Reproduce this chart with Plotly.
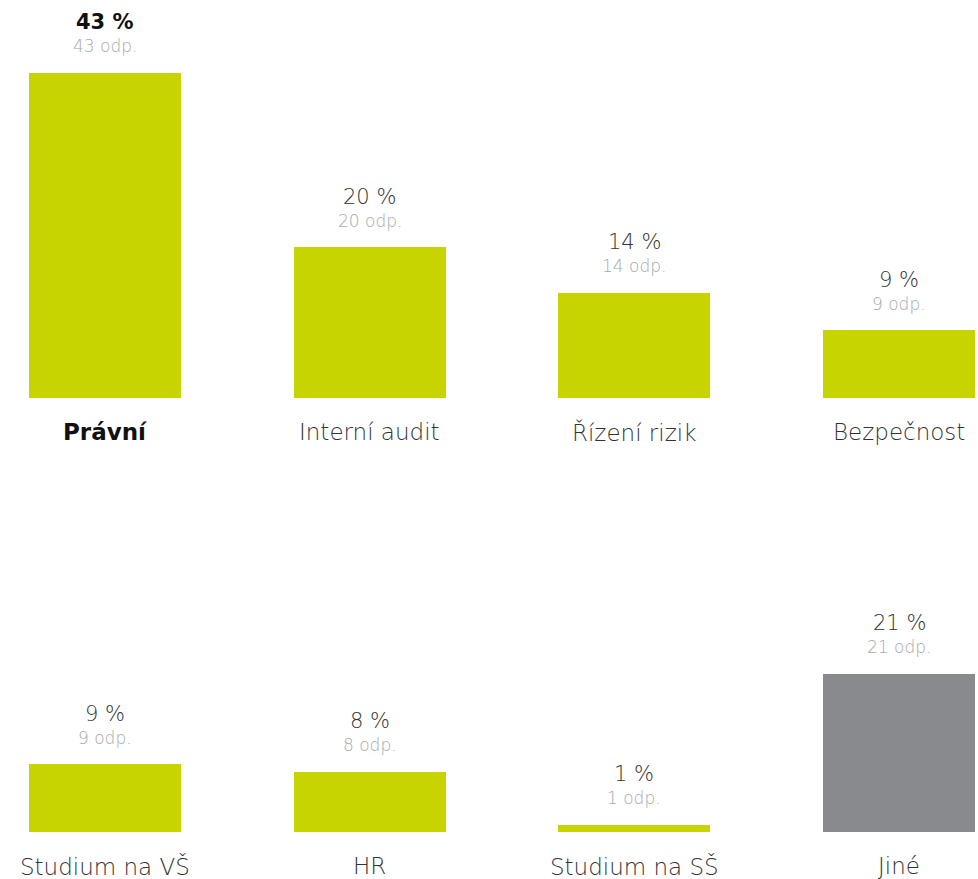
import plotly.graph_objects as go
from plotly.subplots import make_subplots

row1_categories = ["Právní", "Interní audit", "Řízení rizik", "Bezpečnost"]
row1_percent = [43, 20, 14, 9]
row1_counts = [43, 20, 14, 9]

row2_categories = ["Studium na VŠ", "HR", "Studium na SŠ", "Jiné"]
row2_percent = [9, 8, 1, 21]
row2_counts = [9, 8, 1, 21]

GREEN = "#C8D400"
GRAY = "#898A8D"
FONT = "DejaVu Sans"

fig = make_subplots(rows=2, cols=1, vertical_spacing=0.05)

rows = [
    (row1_categories, row1_percent, row1_counts, [GREEN] * 4),
    (row2_categories, row2_percent, row2_counts, [GREEN, GREEN, GREEN, GRAY]),
]

for r, (cats, pct, cnt, colors) in enumerate(rows, start=1):
    fig.add_trace(
        go.Bar(x=list(range(len(cats))), y=pct, marker=dict(color=colors, line=dict(width=0)),
               width=0.5743, hoverinfo="skip", showlegend=False),
        row=r, col=1,
    )
    xref = "x" if r == 1 else "x2"
    yref = "y" if r == 1 else "y2"
    for i, (c, p, n) in enumerate(zip(cats, pct, cnt)):
        bold = (r == 1 and i == 0)
        ptxt = f"<b>{p} %</b>" if bold else f"{p} %"
        ctxt = f"<b>{c}</b>" if bold else c
        fig.add_annotation(x=i, y=p, xref=xref, yref=yref, text=ptxt, showarrow=False,
                           yanchor="middle", yshift=50,
                           font=dict(family=FONT, size=21, color="#111" if bold else "#333",
                                     weight=700 if bold else 200))
        fig.add_annotation(x=i, y=p, xref=xref, yref=yref, text=f"{n} odp.", showarrow=False,
                           yanchor="middle", yshift=26,
                           font=dict(family=FONT, size=17, color="#A8A8A8", weight=200))
        fig.add_annotation(x=i, y=0, xref=xref, yref=yref, text=ctxt, showarrow=False,
                           yanchor="middle", yshift=-34,
                           font=dict(family=FONT, size=23, color="#111" if bold else "#333",
                                     weight=700 if bold else 200))

H = 879.0
xr = [-0.3967, 3.298]
fig.update_xaxes(range=xr, visible=False, showgrid=False, zeroline=False, fixedrange=True)
fig.update_yaxes(range=[0, 50], visible=False, showgrid=False, zeroline=False, fixedrange=True)
fig.update_layout(
    xaxis=dict(domain=[0, 1]),
    xaxis2=dict(domain=[0, 1]),
    yaxis=dict(domain=[(H - 398) / H, (H - 19.5) / H]),
    yaxis2=dict(domain=[(H - 832) / H, (H - 453.5) / H]),
    width=978, height=879,
    margin=dict(l=0, r=0, t=0, b=0),
    paper_bgcolor="white", plot_bgcolor="white",
    font=dict(family=FONT),
    bargap=0,
)

fig.write_html("out.html", config={"displayModeBar": False},
               post_script="document.body.style.margin='0';document.body.style.overflow='hidden';")
